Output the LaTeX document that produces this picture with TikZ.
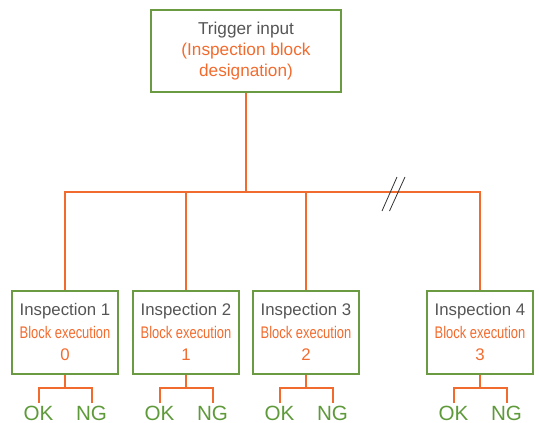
\documentclass[tikz,border=0pt]{standalone}
\usepackage{fontspec}
\setmainfont{Liberation Sans}
\newfontfamily\narrowfont[FakeStretch=0.77]{Liberation Sans}
\definecolor{boxgreen}{HTML}{6A9A42}
\definecolor{okgreen}{HTML}{5E9A3A}
\definecolor{wireorange}{HTML}{F26B2E}
\definecolor{labelgray}{HTML}{555555}
\definecolor{breakgray}{HTML}{333333}
\tikzset{
  unitbox/.style={draw=boxgreen, line width=2pt, minimum width=106pt,
    minimum height=83pt, inner sep=0pt, align=center,
    font=\fontsize{16.8}{22.5}\selectfont},
  topbox/.style={unitbox, minimum width=190pt, minimum height=82pt,
    font=\fontsize{17.2}{20.7}\selectfont},
  wire/.style={draw=wireorange, line width=2pt},
  result/.style={text=okgreen, font=\fontsize{20.6}{20.6}\selectfont,
    inner sep=0pt, outer sep=2.5pt, anchor=base},
  breakmark/.style={draw=breakgray, line width=0.8pt},
}
\begin{document}
\begin{tikzpicture}[x=1pt, y=-1pt]
\useasboundingbox (0,0) rectangle (539,423);

% trigger source
\node[topbox] (top) at (246,51)
  {\textcolor{labelgray}{Trigger input}\\
   \textcolor{wireorange}{(Inspection block}\\
   \textcolor{wireorange}{designation)}};

% inspection units
\node[unitbox] (i1) at (65,332)
  {\textcolor{labelgray}{Inspection 1}\\
   \textcolor{wireorange}{\narrowfont Block execution}\\
   \textcolor{wireorange}{0}};
\node[unitbox] (i2) at (186,332)
  {\textcolor{labelgray}{Inspection 2}\\
   \textcolor{wireorange}{\narrowfont Block execution}\\
   \textcolor{wireorange}{1}};
\node[unitbox] (i3) at (306,332)
  {\textcolor{labelgray}{Inspection 3}\\
   \textcolor{wireorange}{\narrowfont Block execution}\\
   \textcolor{wireorange}{2}};
\node[unitbox] (i4) at (480,332)
  {\textcolor{labelgray}{Inspection 4}\\
   \textcolor{wireorange}{\narrowfont Block execution}\\
   \textcolor{wireorange}{3}};

% distribution bus
\coordinate (bus) at (246,192);
\draw[wire] (top.south) -- (bus);
\draw[wire] (i1.north) |- (bus) -| (i4.north);
\draw[wire] (i2.north) -- (i2.north |- bus);
\draw[wire] (i3.north) -- (i3.north |- bus);

% break in the bus
\coordinate (b1a) at (382,211); \coordinate (b1b) at (397,177);
\coordinate (b2a) at (389.5,211); \coordinate (b2b) at (405,177);
\draw[breakmark] (b1a) -- (b1b);
\draw[breakmark] (b2a) -- (b2b);

% results of each unit
\foreach \n/\cx in {1/65, 2/186, 3/306, 4/480} {
  \node[result] (ok\n) at (\cx-26.5,420) {OK};
  \node[result] (ng\n) at (\cx+26.5,420) {NG};
  \coordinate (fork\n) at (\cx,388);
  \draw[wire] (i\n.south) -- (fork\n);
  \draw[wire] (ok\n.north) |- (fork\n) -| (ng\n.north);
}
\end{tikzpicture}
\end{document}
